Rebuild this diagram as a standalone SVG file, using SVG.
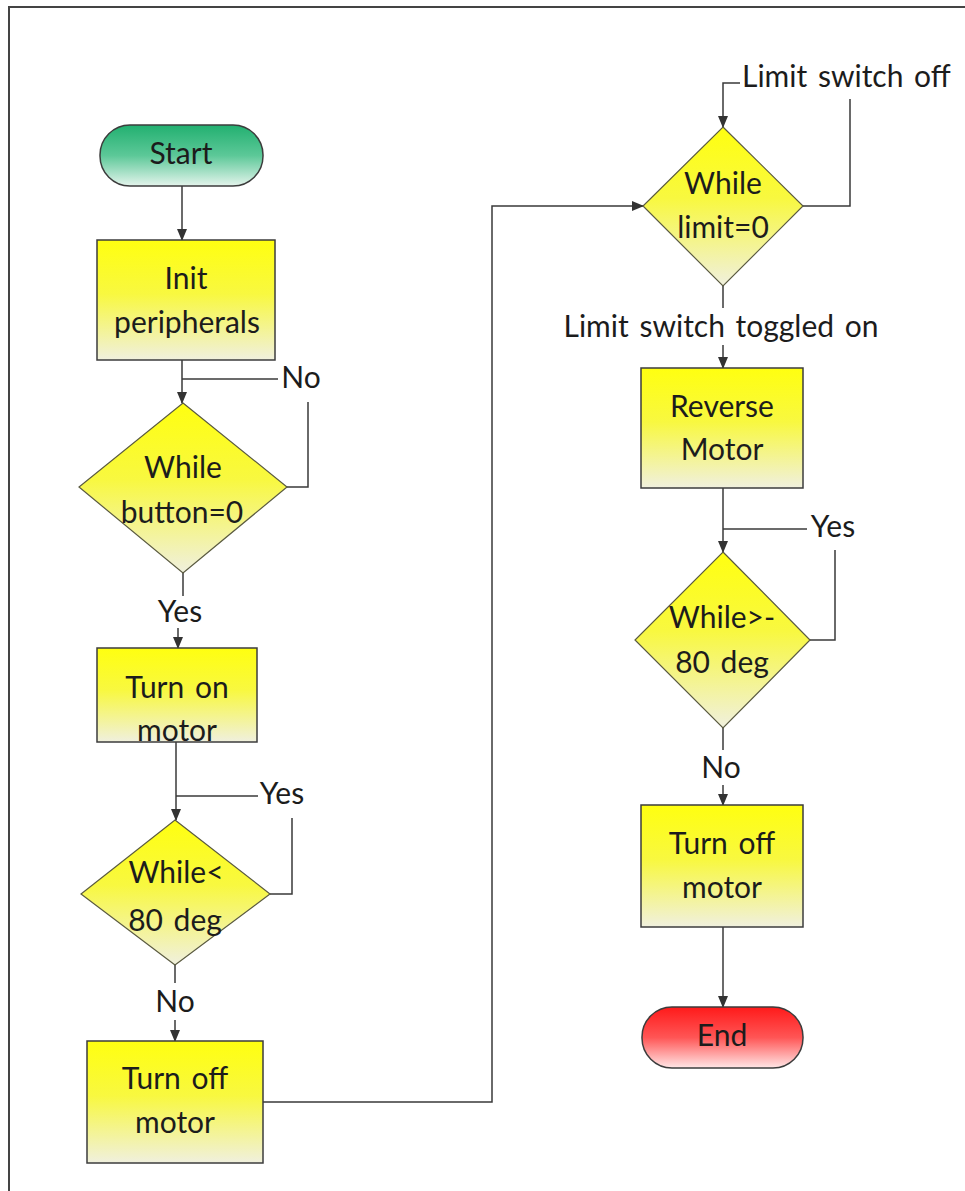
<svg xmlns="http://www.w3.org/2000/svg" width="965" height="1191" viewBox="0 0 965 1191">
  <defs>
    <linearGradient id="gYellow" x1="0" y1="0" x2="0" y2="1">
      <stop offset="0" stop-color="#FFFF10"/>
      <stop offset="0.45" stop-color="#F8F840"/>
      <stop offset="1" stop-color="#F0F0DE"/>
    </linearGradient>
    <linearGradient id="gGreen" x1="0" y1="0" x2="0" y2="1">
      <stop offset="0" stop-color="#22B070"/>
      <stop offset="0.5" stop-color="#5CC898"/>
      <stop offset="1" stop-color="#E4F4EC"/>
    </linearGradient>
    <linearGradient id="gRed" x1="0" y1="0" x2="0" y2="1">
      <stop offset="0" stop-color="#FF1A1A"/>
      <stop offset="0.5" stop-color="#FF5555"/>
      <stop offset="1" stop-color="#FFE6E6"/>
    </linearGradient>
    <marker id="arrow" markerWidth="12" markerHeight="10" refX="11" refY="5" orient="auto" markerUnits="userSpaceOnUse">
      <path d="M0,0 L12,5 L0,10 Z" fill="#333"/>
    </marker>
  </defs>
  <style>
    .box { fill: url(#gYellow); stroke: #3c3c3c; stroke-width: 1.5; }
    .dec { fill: url(#gYellow); stroke: #5a5a40; stroke-width: 1.2; }
    .start { fill: url(#gGreen); stroke: #3c3c3c; stroke-width: 1.5; }
    .end { fill: url(#gRed); stroke: #3c3c3c; stroke-width: 1.5; }
    .ln { fill: none; stroke: #3a3a3a; stroke-width: 1.5; }
    .arr { marker-end: url(#arrow); }
    text { font-family: Lato, "Liberation Sans", sans-serif; font-size: 30px; word-spacing: 3px; fill: #1c1c1c; }
    .c { text-anchor: middle; }
  </style>

  <rect width="965" height="1191" fill="#ffffff"/>
  <!-- frame -->
  <path d="M9,1191 V7 H965" fill="none" stroke="#444" stroke-width="2"/>

  <g id="connectors">
    <path class="ln arr" d="M182,186 V240"/>
    <path class="ln arr" d="M182,360 V403"/>
    <path class="ln" d="M283,487 H308 V402"/>
    <path class="ln" d="M278,379 H182"/>
    <path class="ln" d="M183,573 V596"/>
    <path class="ln arr" d="M178,628 V648"/>
    <path class="ln arr" d="M176,742 V820"/>
    <path class="ln" d="M270,894 H292 V818"/>
    <path class="ln" d="M258,796 H176"/>
    <path class="ln" d="M175,965 V983"/>
    <path class="ln arr" d="M175,1020 V1041"/>
    <path class="ln arr" d="M263,1102 H492 V206 H643"/>
    <path class="ln" d="M803,206 H850 V99"/>
    <path class="ln arr" d="M740,83 H723 V127"/>
    <path class="ln" d="M723,286 V308"/>
    <path class="ln arr" d="M723,345 V368"/>
    <path class="ln arr" d="M723,488 V552"/>
    <path class="ln" d="M810,640 H835 V550"/>
    <path class="ln" d="M807,529 H723"/>
    <path class="ln" d="M723,728 V750"/>
    <path class="ln arr" d="M723,785 V805"/>
    <path class="ln arr" d="M723,927 V1007"/>
  </g>

  <g id="labels">
    <text x="301" y="388" class="c">No</text>
    <text x="180" y="622" class="c">Yes</text>
    <text x="282" y="804" class="c">Yes</text>
    <text x="175" y="1012" class="c">No</text>
    <text x="742" y="87">Limit switch off</text>
    <text x="721" y="337" class="c">Limit switch toggled on</text>
    <text x="833" y="537" class="c">Yes</text>
    <text x="721" y="778" class="c">No</text>
  </g>

  <g id="start">
    <rect class="start" x="100" y="125" width="163" height="61" rx="30" ry="30"/>
    <text x="181" y="164" class="c" fill="#173a28">Start</text>
  </g>

  <g id="init">
    <rect class="box" x="97" y="240" width="178" height="120"/>
    <text x="186" y="289" class="c">Init</text>
    <text x="187" y="333" class="c">peripherals</text>
  </g>

  <g id="wait-button">
    <polygon class="dec" points="183,403 287,487 183,573 79,487"/>
    <text x="183" y="478" class="c">While</text>
    <text x="182" y="523" class="c">button=0</text>
  </g>

  <g id="motor-on">
    <rect class="box" x="97" y="648" width="160" height="94"/>
    <text x="177" y="698" class="c">Turn on</text>
    <text x="177" y="741" class="c">motor</text>
  </g>

  <g id="wait-80">
    <polygon class="dec" points="175,820 270,894 175,965 81,894"/>
    <text x="176" y="883" class="c">While&lt;</text>
    <text x="175" y="931" class="c">80 deg</text>
  </g>

  <g id="motor-off-1">
    <rect class="box" x="87" y="1041" width="176" height="122"/>
    <text x="175" y="1089" class="c">Turn off</text>
    <text x="175" y="1133" class="c">motor</text>
  </g>

  <g id="wait-limit">
    <polygon class="dec" points="723,127 803,206 723,286 643,206"/>
    <text x="723" y="194" class="c">While</text>
    <text x="723" y="238" class="c">limit=0</text>
  </g>

  <g id="reverse">
    <rect class="box" x="641" y="368" width="162" height="120"/>
    <text x="722" y="417" class="c">Reverse</text>
    <text x="722" y="460" class="c">Motor</text>
  </g>

  <g id="wait-neg80">
    <polygon class="dec" points="723,552 810,640 723,728 635,640"/>
    <text x="722" y="628" class="c">While&gt;-</text>
    <text x="722" y="673" class="c">80 deg</text>
  </g>

  <g id="motor-off-2">
    <rect class="box" x="641" y="805" width="162" height="122"/>
    <text x="722" y="854" class="c">Turn off</text>
    <text x="722" y="898" class="c">motor</text>
  </g>

  <g id="end">
    <rect class="end" x="642" y="1007" width="161" height="61" rx="30" ry="30"/>
    <text x="722" y="1046" class="c" fill="#4a0c0c">End</text>
  </g>
</svg>
